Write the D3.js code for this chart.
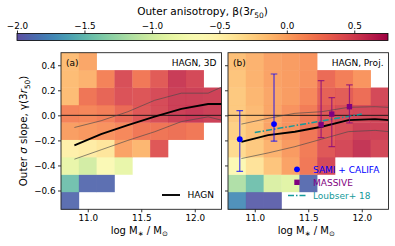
<!DOCTYPE html>
<html><head><meta charset="utf-8">
<script src="https://cdn.jsdelivr.net/npm/d3@7"></script>
<style>
html,body{margin:0;padding:0;background:#fff;}
svg{display:block;font-family:"DejaVu Sans",sans-serif;}
</style></head>
<body>
<svg id="chart" width="395" height="246"></svg>
<script>
// ---------- data ----------
const massEdges = [10.75, 10.917, 11.083, 11.25, 11.417, 11.583, 11.75, 11.917, 12.083, 12.25];
const slopeEdges = [-0.75, -0.611, -0.472, -0.333, -0.194, -0.056, 0.083, 0.222, 0.361, 0.5];
// outer anisotropy per cell, rows from lowest slope bin upward, null = empty
const betaHAGN3D = [
  [-1.9, null, null, null, null, null, null, null, null],
  [-1.45, -1.9, -1.9, null, null, null, null, null, null],
  [-0.85, -1.0, -0.63, -0.85, null, null, null, null, null],
  [-0.49, -0.45, -0.4, 0.0, -0.1, 0.4, null, null, null],
  [0.02, 0.05, 0.08, 0.13, 0.22, 0.23, 0.25, 0.21, null],
  [0.16, 0.14, 0.18, 0.3, 0.4, 0.46, 0.53, 0.56, 0.53],
  [-0.13, 0.23, 0.32, 0.43, 0.41, 0.47, 0.53, 0.53, 0.52],
  [-0.13, -0.08, 0.16, 0.45, 0.21, 0.38, 0.55, 0.48, null],
  [-0.13, -0.02, null, null, null, null, null, null, null]
];
const betaHAGNProj = [
  [-1.72, -1.95, -1.95, null, null, null, null, null, null],
  [-1.17, -1.45, -0.95, -0.9, -1.9, null, null, null, null],
  [-0.6, -0.38, -0.18, 0.0, 0.21, 0.48, null, null, null],
  [-0.32, -0.2, -0.08, 0.04, 0.19, 0.4, 0.48, 0.58, 0.49],
  [-0.25, -0.15, 0.0, 0.08, 0.22, 0.38, 0.45, 0.53, 0.52],
  [-0.2, -0.12, -0.01, 0.08, 0.19, 0.4, 0.46, 0.49, 0.5],
  [-0.2, -0.1, -0.02, 0.03, 0.13, 0.34, 0.37, 0.27, 0.48],
  [-0.18, -0.08, 0.0, 0.03, 0.08, 0.29, 0.18, 0.07, null],
  [-0.15, -0.08, 0.0, 0.03, 0.07, null, null, null, null]
];
const medianMass = [10.875, 11.125, 11.375, 11.625, 11.875, 12.125, 12.375];
const median3D = [-0.24, -0.15, -0.078, -0.011, 0.052, 0.09, 0.09];
const upper3D  = [-0.097, -0.043, 0.029, 0.12, 0.177, 0.177, 0.273];
const lower3D  = [-0.35, -0.275, -0.2, -0.131, -0.05, -0.012, -0.065];
const medianProj = [-0.212, -0.158, -0.131, -0.091, -0.038, -0.03, -0.046];
const upperProj  = [-0.07, -0.024, 0.016, 0.029, 0.064, 0.069, 0.059];
const lowerProj  = [-0.345, -0.3, -0.25, -0.19, -0.13, -0.12, -0.14];
const samiMass = [10.86, 11.18];
const samiSlope = [-0.19, -0.07];
const samiLow = [-0.447, -0.206];
const samiHigh = [0.037, 0.33];
const massiveMass = [11.62, 11.72, 11.885];
const massiveSlope = [-0.075, 0.01, 0.069];
const massiveLow = [-0.178, -0.25, -0.06];
const massiveHigh = [0.277, 0.141, 0.243];
const loubserMass = [11.0, 12.0];
const loubserSlope = [-0.137, 0.01];
const massTicks = [11.0, 11.5, 12.0];
const slopeTicks = [-0.6, -0.4, -0.2, 0.0, 0.2, 0.4];
const betaTicks = [-2.0, -1.5, -1.0, -0.5, 0.0, 0.5];

// ---------- setup ----------
const svg = d3.select("#chart");
const fmt = d3.format(".1f");
const betaDomain = [-2, 0.75];
const color = v => {
  const c = Math.max(betaDomain[0], Math.min(betaDomain[1], v));
  return d3.interpolateSpectral(1 - (c - betaDomain[0]) / (betaDomain[1] - betaDomain[0]));
};
const y = d3.scaleLinear().domain([-0.75, 0.5]).range([209.3, 52.7]);
const panels = [
  {id: "a", x: d3.scaleLinear().domain([10.75, 12.25]).range([61, 221.5]), grid: betaHAGN3D,
   med: median3D, up: upper3D, lo: lower3D},
  {id: "b", x: d3.scaleLinear().domain([10.75, 12.25]).range([228, 388.5]), grid: betaHAGNProj,
   med: medianProj, up: upperProj, lo: lowerProj}
];

const defs = svg.append("defs");

// ---------- colorbar ----------
const cbX = d3.scaleLinear().domain(betaDomain).range([17, 388]);
const grad = defs.append("linearGradient").attr("id", "cbgrad").attr("x1", "0").attr("x2", "1").attr("y1", "0").attr("y2", "0");
d3.range(0, 1.0001, 0.02).forEach(t => {
  grad.append("stop").attr("offset", t).attr("stop-color", d3.interpolateSpectral(1 - t));
});
svg.append("rect").attr("x", cbX(-2)).attr("y", 33.5).attr("width", cbX(0.75) - cbX(-2)).attr("height", 7)
  .attr("fill", "url(#cbgrad)").attr("stroke", "#000").attr("stroke-width", 0.8);
const cbAxis = svg.append("g").attr("transform", "translate(0,33.5)")
  .call(d3.axisTop(cbX).tickValues(betaTicks).tickSize(3).tickPadding(2).tickFormat(fmt));
cbAxis.select(".domain").remove();
cbAxis.selectAll("text").attr("font-size", 8.8).attr("font-family", "DejaVu Sans").attr("fill", "#000");
cbAxis.selectAll("line").attr("stroke", "#000").attr("stroke-width", 0.8);

const cbTitle = svg.append("text").attr("x", 202.5).attr("y", 15).attr("text-anchor", "middle")
  .attr("font-size", 10.5).attr("fill", "#000");
cbTitle.append("tspan").text("Outer anisotropy, β(3");
cbTitle.append("tspan").attr("font-style", "italic").text("r");
cbTitle.append("tspan").attr("font-size", 7.5).attr("dy", 2.5).text("50");
cbTitle.append("tspan").attr("dy", -2.5).text(")");

// ---------- panels ----------
panels.forEach(p => {
  const g = svg.append("g");
  const cp = defs.append("clipPath").attr("id", "clip" + p.id);
  cp.append("rect").attr("x", p.x.range()[0]).attr("y", y.range()[1])
    .attr("width", p.x.range()[1] - p.x.range()[0]).attr("height", y.range()[0] - y.range()[1]);

  // heatmap cells
  const cells = [];
  p.grid.forEach((row, j) => row.forEach((v, i) => {
    if (v !== null) cells.push({i, j, v});
  }));
  g.append("g").selectAll("rect").data(cells).join("rect")
    .attr("x", d => p.x(massEdges[d.i]))
    .attr("width", d => p.x(massEdges[d.i + 1]) - p.x(massEdges[d.i]) + 0.3)
    .attr("y", d => y(slopeEdges[d.j + 1]))
    .attr("height", d => y(slopeEdges[d.j]) - y(slopeEdges[d.j + 1]) + 0.3)
    .attr("fill", d => color(d.v)).attr("fill-opacity", 0.92);

  const lg = g.append("g").attr("clip-path", `url(#clip${p.id})`);
  // zero line
  lg.append("line").attr("x1", p.x.range()[0]).attr("x2", p.x.range()[1])
    .attr("y1", y(0)).attr("y2", y(0)).attr("stroke", "#111").attr("stroke-width", 0.9);
  const line = d3.line().x((d, k) => p.x(medianMass[k])).y(d => y(d));
  lg.append("path").attr("d", line(p.up)).attr("fill", "none").attr("stroke", "#4a4a4a").attr("stroke-width", 0.65);
  lg.append("path").attr("d", line(p.lo)).attr("fill", "none").attr("stroke", "#4a4a4a").attr("stroke-width", 0.65);
  lg.append("path").attr("d", line(p.med)).attr("fill", "none").attr("stroke", "#000").attr("stroke-width", 1.9);

  // axes
  const xa = g.append("g").attr("transform", `translate(0,${y.range()[0]})`)
    .call(d3.axisBottom(p.x).tickValues(massTicks).tickSize(3).tickPadding(2.5).tickFormat(fmt));
  xa.select(".domain").remove();
  xa.selectAll("text").attr("font-size", 8.8).attr("font-family", "DejaVu Sans").attr("fill", "#000");
  xa.selectAll("line").attr("stroke", "#000").attr("stroke-width", 0.8);
  const ya = g.append("g").attr("transform", `translate(${p.x.range()[0]},0)`)
    .call(d3.axisLeft(y).tickValues(slopeTicks).tickSize(3).tickPadding(2.5).tickFormat(p.id === "a" ? fmt : () => ""));
  ya.select(".domain").remove();
  ya.selectAll("text").attr("font-size", 8.8).attr("font-family", "DejaVu Sans").attr("fill", "#000");
  ya.selectAll("line").attr("stroke", "#000").attr("stroke-width", 0.8);

  // frame
  g.append("rect").attr("x", p.x.range()[0]).attr("y", y.range()[1])
    .attr("width", p.x.range()[1] - p.x.range()[0]).attr("height", y.range()[0] - y.range()[1])
    .attr("fill", "none").attr("stroke", "#222").attr("stroke-width", 0.9);

  // x label
  const xl = g.append("text").attr("x", (p.x.range()[0] + p.x.range()[1]) / 2 - 2).attr("y", 234)
    .attr("text-anchor", "middle").attr("font-size", 10).attr("fill", "#000");
  xl.append("tspan").text("log M");
  xl.append("tspan").attr("font-size", 7).attr("dy", 2).text("∗");
  xl.append("tspan").attr("dy", -2).text(" / M");
  xl.append("tspan").attr("font-size", 7).attr("dy", 2).text("⊙");

  // panel tag
  g.append("text").attr("x", p.x.range()[0] + 5).attr("y", 65.5).attr("font-size", 9).attr("fill", "#000")
    .text(`(${p.id})`);
  g.append("text").attr("x", p.x.range()[1] - 5).attr("y", 65.5).attr("font-size", 9).attr("fill", "#000")
    .attr("text-anchor", "end").text(p.id === "a" ? "HAGN, 3D" : "HAGN, Proj.");
});

// y label
const ylab = svg.append("text").attr("transform", `translate(27,${(y.range()[0] + y.range()[1]) / 2}) rotate(-90)`)
  .attr("text-anchor", "middle").attr("font-size", 10.3).attr("fill", "#000");
ylab.append("tspan").text("Outer ");
ylab.append("tspan").attr("font-style", "italic").text("σ");
ylab.append("tspan").text(" slope, γ(3");
ylab.append("tspan").attr("font-style", "italic").text("r");
ylab.append("tspan").attr("font-size", 7.3).attr("dy", 2.5).text("50");
ylab.append("tspan").attr("dy", -2.5).text(")");

// left legend
const pa = panels[0], pb = panels[1];
svg.append("line").attr("x1", 162).attr("x2", 180).attr("y1", 195).attr("y2", 195)
  .attr("stroke", "#000").attr("stroke-width", 1.9);
svg.append("text").attr("x", 187.5).attr("y", 198.2).attr("font-size", 9).attr("fill", "#000").text("HAGN");

// ---------- observations (panel b) ----------
const ob = svg.append("g").attr("clip-path", "url(#clipb)");
// Loubser
ob.append("path").attr("d", d3.line().x((d, k) => pb.x(loubserMass[k])).y(d => y(d))(loubserSlope))
  .attr("fill", "none").attr("stroke", "#149a9a").attr("stroke-width", 1.5).attr("stroke-dasharray", "6,2,1.5,2");

function errbars(masses, vals, lows, highs, col) {
  masses.forEach((m, k) => {
    const gx = pb.x(m);
    ob.append("line").attr("x1", gx).attr("x2", gx).attr("y1", y(lows[k])).attr("y2", y(highs[k]))
      .attr("stroke", col).attr("stroke-width", 1.2).attr("stroke-opacity", 0.7);
    [lows[k], highs[k]].forEach(e => {
      ob.append("line").attr("x1", gx - 3.3).attr("x2", gx + 3.3).attr("y1", y(e)).attr("y2", y(e))
        .attr("stroke", col).attr("stroke-width", 1.2).attr("stroke-opacity", 0.7);
    });
  });
}
errbars(samiMass, samiSlope, samiLow, samiHigh, "#0000ff");
errbars(massiveMass, massiveSlope, massiveLow, massiveHigh, "#800080");
ob.selectAll("circle.sami").data(samiMass).join("circle").attr("class", "sami")
  .attr("cx", d => pb.x(d)).attr("cy", (d, k) => y(samiSlope[k])).attr("r", 2.9).attr("fill", "#0000ff");
ob.selectAll("rect.massive").data(massiveMass).join("rect").attr("class", "massive")
  .attr("x", d => pb.x(d) - 2.7).attr("y", (d, k) => y(massiveSlope[k]) - 2.7)
  .attr("width", 5.4).attr("height", 5.4).attr("fill", "#800080");

// right legend
svg.append("circle").attr("cx", 297).attr("cy", 169.3).attr("r", 2.9).attr("fill", "#0000ff");
svg.append("text").attr("x", 313).attr("y", 172.5).attr("font-size", 9).attr("fill", "#0000ff").text("SAMI + CALIFA");
svg.append("rect").attr("x", 294.3).attr("y", 179.6).attr("width", 5.4).attr("height", 5.4).attr("fill", "#800080");
svg.append("text").attr("x", 313).attr("y", 185.8).attr("font-size", 9).attr("fill", "#800080").text("MASSIVE");
svg.append("line").attr("x1", 288).attr("x2", 306.5).attr("y1", 195.5).attr("y2", 195.5)
  .attr("stroke", "#149a9a").attr("stroke-width", 1.5).attr("stroke-dasharray", "6,2,1.5,2");
svg.append("text").attr("x", 313).attr("y", 198.8).attr("font-size", 9).attr("fill", "#149a9a").text("Loubser+ 18");
</script>
</body></html>
